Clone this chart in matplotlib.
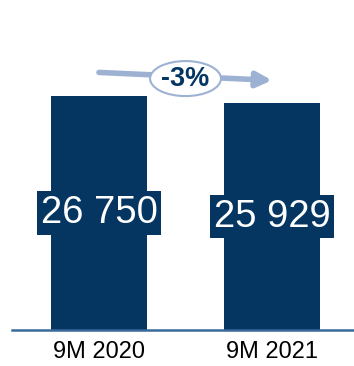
import matplotlib.pyplot as plt
from matplotlib.patches import Ellipse

categories = ["9M 2020", "9M 2021"]
values = [26750, 25929]
value_labels = ["26 750", "25 929"]
change_label = "-3%"

bar_color = "#053661"
arrow_color = "#9db2d2"

plt.rcParams["font.family"] = ["Liberation Sans", "DejaVu Sans"]

fig = plt.figure(figsize=(3.54, 3.66), dpi=100)
ax = fig.add_axes([12 / 354, 36 / 366, 1 - 12 / 354, 330 / 366])

x = list(range(len(categories)))
ax.bar(x, values, width=0.555, color=bar_color, zorder=2)

for xi, v, lab in zip(x, values, value_labels):
    ax.text(xi, v / 2, lab, ha="center", va="center", fontsize=27.5, color="white",
            bbox=dict(boxstyle="square,pad=0.1", fc=bar_color, ec="none"), zorder=3)

# change arrow between the bars
y0, y1 = values[0] * 1.1, values[1] * 1.1
ax.annotate("", xy=(x[1], y1), xytext=(x[0], y0),
            arrowprops=dict(arrowstyle="-|>,head_length=0.9,head_width=0.45",
                            color=arrow_color, lw=4, shrinkA=0, shrinkB=0), zorder=3)
xm = (x[0] + x[1]) / 2
ym = (y0 + y1) / 2 - 250
ell = Ellipse((xm, ym), width=0.41, height=4000,
              fc="white", ec=arrow_color, lw=1.5, zorder=4)
ax.add_patch(ell)
ax.text(xm, ym, change_label, ha="center", va="center",
        fontsize=19.5, fontweight="bold", color=bar_color, zorder=5)

ax.set_xlim(-0.503, 1.474)
ax.set_ylim(0, 37700)
for s in ["top", "right", "left"]:
    ax.spines[s].set_visible(False)
ax.spines["bottom"].set_color("#3a6a9a")
ax.spines["bottom"].set_linewidth(1.8)
ax.set_yticks([])
ax.set_xticks(x)
ax.set_xticklabels(categories, fontsize=17)
ax.tick_params(axis="x", length=0, pad=8)

fig.savefig("out.png", dpi=100)
